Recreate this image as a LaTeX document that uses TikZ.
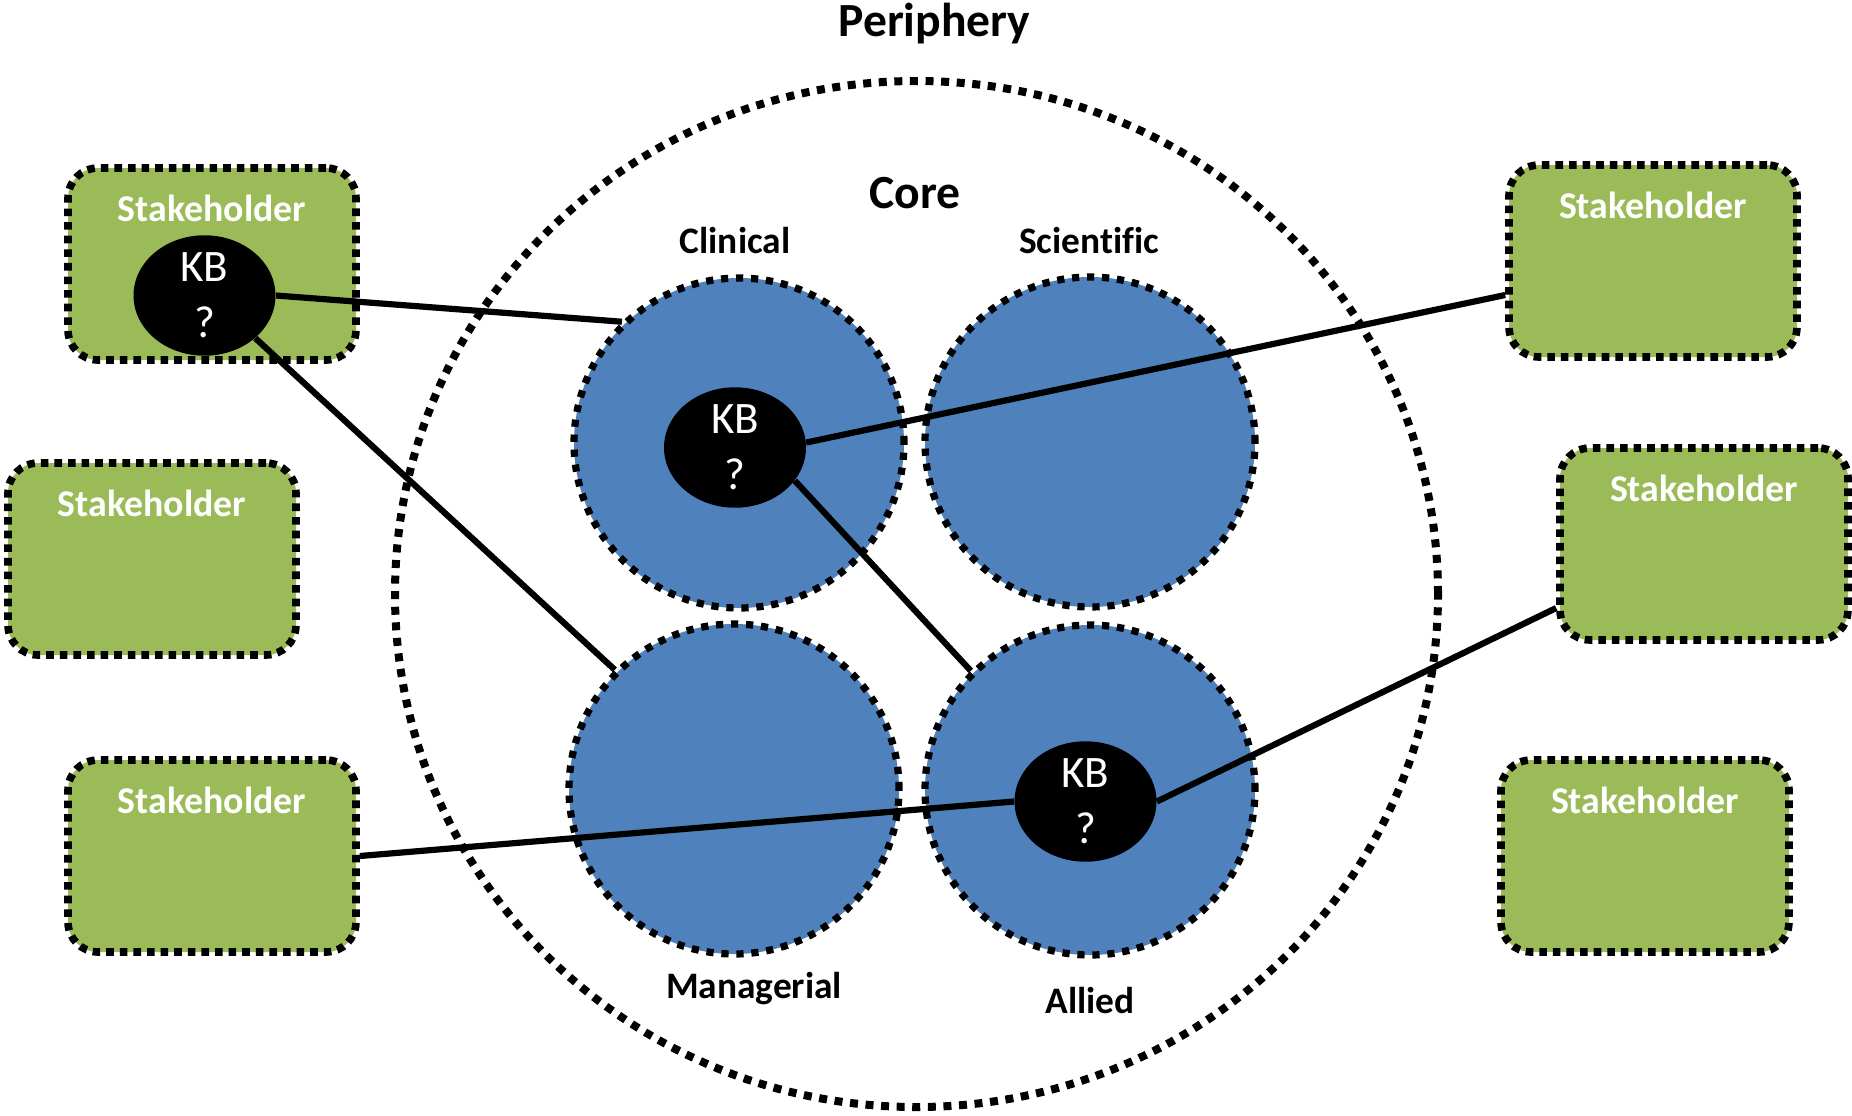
\documentclass[tikz,border=0pt]{standalone}
\usepackage{fontspec}
\setmainfont{Carlito}[Ligatures=NoCommon]
\usetikzlibrary{shapes.geometric,calc}
\definecolor{stakegreen}{HTML}{9BBB59}
\definecolor{domainblue}{HTML}{4F81BD}
\begin{document}
\begin{tikzpicture}[x=0.5pt,y=-0.5pt,
  ring/.style={ellipse, draw, inner sep=0pt, line width=4pt,
    dash pattern=on 4pt off 3.8pt},
  coredomain/.style={circle, draw, fill=domainblue, minimum size=165pt,
    inner sep=0pt, line width=3.6pt, dash pattern=on 3.6pt off 3.9pt},
  stakebox/.style={rectangle, draw, fill=stakegreen, rounded corners=15pt,
    minimum width=144pt, minimum height=96pt, inner sep=0pt,
    line width=3.8pt, dash pattern=on 3.8pt off 3pt},
  staketext/.style={text=white, anchor=base, inner sep=0pt,
    font=\bfseries\fontsize{18.9pt}{22pt}\selectfont},
  domainlabel/.style={anchor=base, inner sep=0pt,
    font=\bfseries\fontsize{18.7pt}{22pt}\selectfont},
  zonelabel/.style={anchor=base, inner sep=0pt,
    font=\bfseries\fontsize{23.8pt}{28pt}\selectfont},
  kb/.style={ellipse, fill=black, text=white, minimum width=71pt,
    minimum height=57pt, inner sep=0pt, align=center,
    font=\fontsize{22.5pt}{28pt}\selectfont},
  link/.style={line width=3.1pt}]

\useasboundingbox (0,0) rectangle (1852,1115);

% periphery ring and its title
\node[ring, minimum width=521.5pt, minimum height=513pt] (periphery) at (916.5,594) {};
\node[zonelabel] (peritxt) at (934.5,36) {Periphery};
\node[zonelabel] (coretxt) at (915,208) {Core};

% the four core domains
\node[coredomain] (clin) at (739,443) {};
\node[coredomain] (scie) at (1090,442) {};
\node[coredomain] (mana) at (734,789) {};
\node[coredomain] (alli) at (1090,790) {};

\node[domainlabel] (clintxt) at (735,253) {Clinical};
\node[domainlabel] (scietxt) at (1089,253) {Scientific};
\node[domainlabel] (manatxt) at (754,998) {Managerial};
\node[domainlabel] (allitxt) at (1090,1013) {Allied};

% stakeholders around the periphery
\node[stakebox] (tl) at (212,264) {};
\node[stakebox] (ml) at (152,559) {};
\node[stakebox] (bl) at (212,856) {};
\node[stakebox] (tr) at (1653,261) {};
\node[stakebox] (mr) at (1704,544) {};
\node[stakebox] (br) at (1645,856) {};

\node[staketext] (tltxt) at ($(tl.north)+(0,57)$) {Stakeholder};
\node[staketext] (mltxt) at ($(ml.north)+(0,57)$) {Stakeholder};
\node[staketext] (bltxt) at ($(bl.north)+(0,57)$) {Stakeholder};
\node[staketext] (trtxt) at ($(tr.north)+(0,57)$) {Stakeholder};
\node[staketext] (mrtxt) at ($(mr.north)+(0,57)$) {Stakeholder};
\node[staketext] (brtxt) at ($(br.north)+(0,57)$) {Stakeholder};

% knowledge brokers
\node[kb] (kbtl) at (204.5,295.5) {KB\\?};
\node[kb] (kbcl) at (735,447.5) {KB\\?};
\node[kb] (kbal) at (1085.5,801.5) {KB\\?};

% links
\draw[link] (kbtl.east) -- (clin.134);
\draw[link] (kbtl.-40) -- (mana.135);
\draw[link] (kbcl.4) -- ($(tr.west)+(0,34)$);
\draw[link] (kbcl.-29) -- (alli.135);
\draw[link] (bl.east) -- (kbal.west);
\draw[link] (kbal.east) -- ($(mr.west)+(0,64)$);
\end{tikzpicture}
\end{document}
